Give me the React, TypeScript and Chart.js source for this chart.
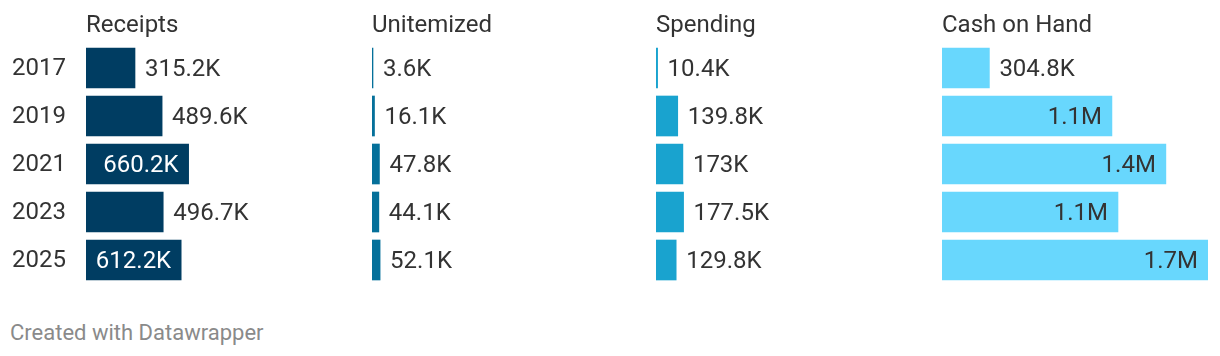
import React, { useEffect, useRef } from "react";
import { Chart, registerables } from "chart.js";

Chart.register(...registerables);

const years = ["2017", "2019", "2021", "2023", "2025"];
const headers = ["Receipts", "Unitemized", "Spending", "Cash on Hand"];
const receipts = [315200, 489600, 660200, 496700, 612200];
const unitemized = [3600, 16100, 47800, 44100, 52100];
const spending = [10400, 139800, 173000, 177500, 129800];
const cashOnHand = [304800, 1093000, 1440000, 1132000, 1711000];

const seriesList = [receipts, unitemized, spending, cashOnHand];
const barColors = ["#003d62", "#05709a", "#19a3cf", "#68d7fd"];
const insideColors = ["#ffffff", "#ffffff", "#ffffff", "#333333"];
const scaleMax = 1711000;

const FONT = "Roboto, 'Noto Sans', sans-serif";
const FONT_SIZE = 24;
const TEXT_COLOR = "#333333";

function fmt(v: number): string {
  if (v >= 1e6) {
    return (v / 1e6).toFixed(1).replace(/\.0$/, "") + "M";
  }
  return (v / 1e3).toFixed(1).replace(/\.0$/, "") + "K";
}

const panelLefts = [0, 372, 656, 942];

function Panel({ idx }: { idx: number }) {
  const ref = useRef<HTMLCanvasElement | null>(null);
  const first = idx === 0;
  const width = first ? 366 : 280;
  const height = 290;

  useEffect(() => {
    if (!ref.current) return;
    const values = seriesList[idx];
    const labelPlugin = {
      id: "valueLabels" + idx,
      afterDatasetsDraw(chart: any) {
        const ctx = chart.ctx;
        const area = chart.chartArea;
        ctx.save();
        ctx.font = `${FONT_SIZE}px ${FONT}`;
        ctx.textBaseline = "alphabetic";
        ctx.fillStyle = TEXT_COLOR;
        ctx.textAlign = "left";
        ctx.fillText(headers[idx], area.left, 32);
        const meta = chart.getDatasetMeta(0);
        const pad = 10;
        meta.data.forEach((el: any, i: number) => {
          const text = fmt(values[i]);
          const w = ctx.measureText(text).width;
          const barW = el.x - el.base;
          if (barW >= w + 16) {
            ctx.textAlign = "right";
            ctx.fillStyle = insideColors[idx];
            ctx.fillText(text, el.x - pad, el.y + 8);
          } else {
            ctx.textAlign = "left";
            ctx.fillStyle = TEXT_COLOR;
            ctx.fillText(text, Math.max(el.x, el.base + 1) + pad, el.y + 8);
          }
        });
        ctx.restore();
      },
    };

    const yScale: any = {
      display: first,
      grid: { display: false },
      border: { display: false },
      ticks: {
        crossAlign: "far",
        color: TEXT_COLOR,
        font: { family: FONT, size: FONT_SIZE },
        padding: 0,
        labelOffset: 1,
      },
    };
    if (first) {
      yScale.afterFit = (scale: any) => {
        scale.width = 74;
        scale.paddingTop = 0;
        scale.paddingBottom = 0;
      };
    }

    const chart = new Chart(ref.current, {
      type: "bar",
      data: {
        labels: years,
        datasets: [
          {
            data: values,
            backgroundColor: barColors[idx],
            borderWidth: 0,
            barThickness: 40,
            minBarLength: 1,
          },
        ],
      },
      options: {
        indexAxis: "y",
        responsive: false,
        animation: false,
        devicePixelRatio: 1,
        layout: {
          padding: { top: 44, bottom: 6, left: first ? 12 : 0, right: 14 },
        },
        plugins: {
          legend: { display: false },
          tooltip: { enabled: false },
          title: { display: false },
        },
        scales: {
          x: {
            display: false,
            min: 0,
            max: scaleMax,
          },
          y: yScale,
        },
      } as any,
      plugins: [labelPlugin],
    });
    return () => chart.destroy();
  }, [idx]);

  return (
    <canvas
      ref={ref}
      width={width}
      height={height}
      style={{ position: "absolute", left: panelLefts[idx], top: 0, width, height }}
    />
  );
}

export default function App() {
  return (
    <div
      style={{
        position: "absolute",
        left: 0,
        top: 0,
        width: 1220,
        height: 356,
        background: "#ffffff",
        overflow: "hidden",
      }}
    >
      {headers.map((_, i) => (
        <Panel key={i} idx={i} />
      ))}
      <div
        style={{
          position: "absolute",
          left: 10,
          top: 320,
          fontFamily: FONT,
          fontSize: 22,
          lineHeight: "26px",
          color: "#8a8a8a",
          whiteSpace: "nowrap",
        }}
      >
        Created with Datawrapper
      </div>
    </div>
  );
}
